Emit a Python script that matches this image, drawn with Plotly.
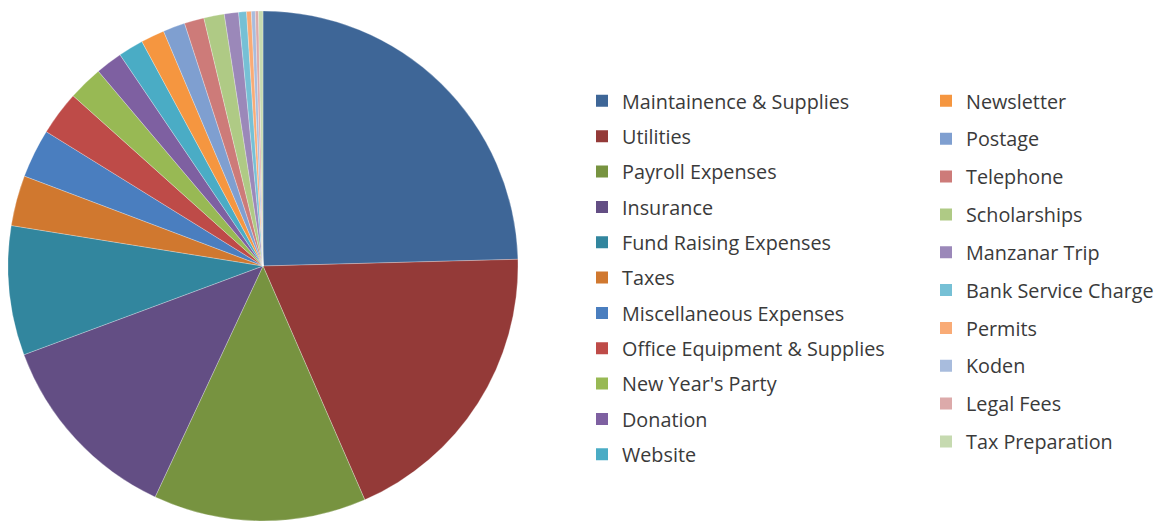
import plotly.graph_objects as go

categories = ["Maintainence & Supplies", "Utilities", "Payroll Expenses", "Insurance",
              "Fund Raising Expenses", "Taxes", "Miscellaneous Expenses",
              "Office Equipment & Supplies", "New Year's Party", "Donation", "Website",
              "Newsletter", "Postage", "Telephone", "Scholarships", "Manzanar Trip",
              "Bank Service Charge", "Permits", "Koden", "Legal Fees", "Tax Preparation"]
values = [24.6, 18.9, 13.5, 12.4, 8.2, 3.2, 3.1, 2.8, 2.2, 1.7, 1.6,
          1.5, 1.4, 1.25, 1.3, 0.9, 0.5, 0.3, 0.25, 0.2, 0.28]
colors = ["#3E6697", "#943A38", "#779340", "#634E84", "#32869E", "#D0782F",
          "#4A7EBF", "#BE4B48", "#98B954", "#7E60A1", "#4AACC5", "#F59640",
          "#7F9FD0", "#CD7B79", "#AFCA85", "#9B88B9", "#76C0D5", "#F9AB76",
          "#A8BCDD", "#DCAAAA", "#C6DAB0"]

W, H = 1168, 521
fig = go.Figure()
fig.add_trace(go.Pie(
    labels=categories, values=values, sort=False, direction="clockwise", rotation=0,
    marker=dict(colors=colors, line=dict(color="rgba(255,255,255,0.45)", width=0.6)),
    textinfo="none", showlegend=False,
    domain=dict(x=[0, 510 / W], y=[1 - 513 / H, 1 - 3 / H]),
))

split = 11
for i, (c, col) in enumerate(zip(categories, colors)):
    fig.add_trace(go.Scatter(
        x=[None], y=[None], mode="markers", name=c,
        marker=dict(symbol="square", size=12, color=col),
        legend="legend" if i < split else "legend2",
        legendgroup="g%d" % i, showlegend=True, hoverinfo="skip",
    ))

legend_font = dict(family="Open Sans", size=19.8, color="#3a3a3a")
fig.update_layout(
    width=W, height=H,
    margin=dict(l=0, r=0, t=0, b=0),
    paper_bgcolor="white", plot_bgcolor="white",
    xaxis=dict(visible=False), yaxis=dict(visible=False),
    legend=dict(x=574 / W, y=1 - 73.5 / H, xanchor="left", yanchor="top",
                font=legend_font, traceorder="grouped", tracegroupgap=6.6,
                bgcolor="rgba(0,0,0,0)"),
    legend2=dict(x=918 / W, y=1 - 73.5 / H, xanchor="left", yanchor="top",
                 font=legend_font, traceorder="grouped", tracegroupgap=9.1,
                 bgcolor="rgba(0,0,0,0)"),
)
fig.write_html("out.html")
